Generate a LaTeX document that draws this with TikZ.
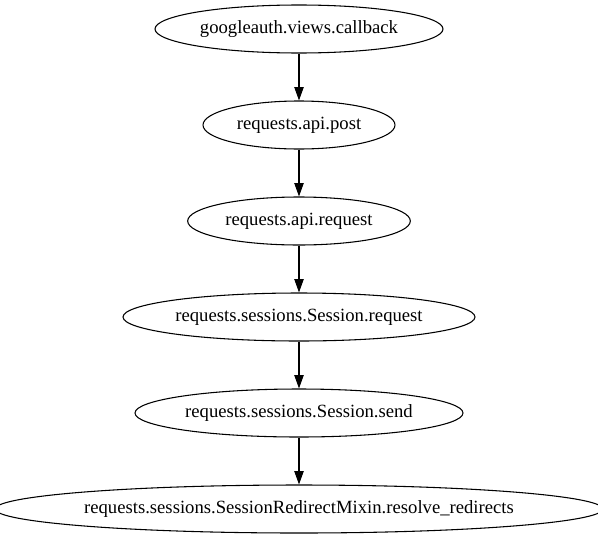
\documentclass[tikz,border=0pt]{standalone}
\usepackage{fontspec}
\setmainfont{Liberation Serif}
\usetikzlibrary{positioning, arrows.meta, shapes.geometric}

\begin{document}
\begin{tikzpicture}[node distance=72pt,on grid,
        func/.style={ellipse,draw,line width=0.8pt,inner sep=0pt,minimum height=36pt,font=\fontsize{14}{16}\selectfont},
        call/.style={-{Triangle[length=10pt,width=7pt]},line width=0.8pt}]
        \useasboundingbox (-224.25pt,21.75pt) rectangle (224.25pt,-382.5pt);
        \node[func,minimum width=216pt] (cb) {googleauth.views.callback};
        \node[func,minimum width=144pt] (post) [below=of cb] {requests.api.post};
        \node[func,minimum width=167pt] (req) [below=of post] {requests.api.request};
        \node[func,minimum width=264pt] (sreq) [below=of req] {requests.sessions.Session.request};
        \node[func,minimum width=246pt] (send) [below=of sreq] {requests.sessions.Session.send};
        \node[func,minimum width=445pt] (redir) [below=of send] {requests.sessions.SessionRedirectMixin.resolve\_redirects};
        \path[call]
        (cb) edge (post)
        (post) edge (req)
        (req) edge (sreq)
        (sreq) edge (send)
        (send) edge (redir);
\end{tikzpicture}
\end{document}
